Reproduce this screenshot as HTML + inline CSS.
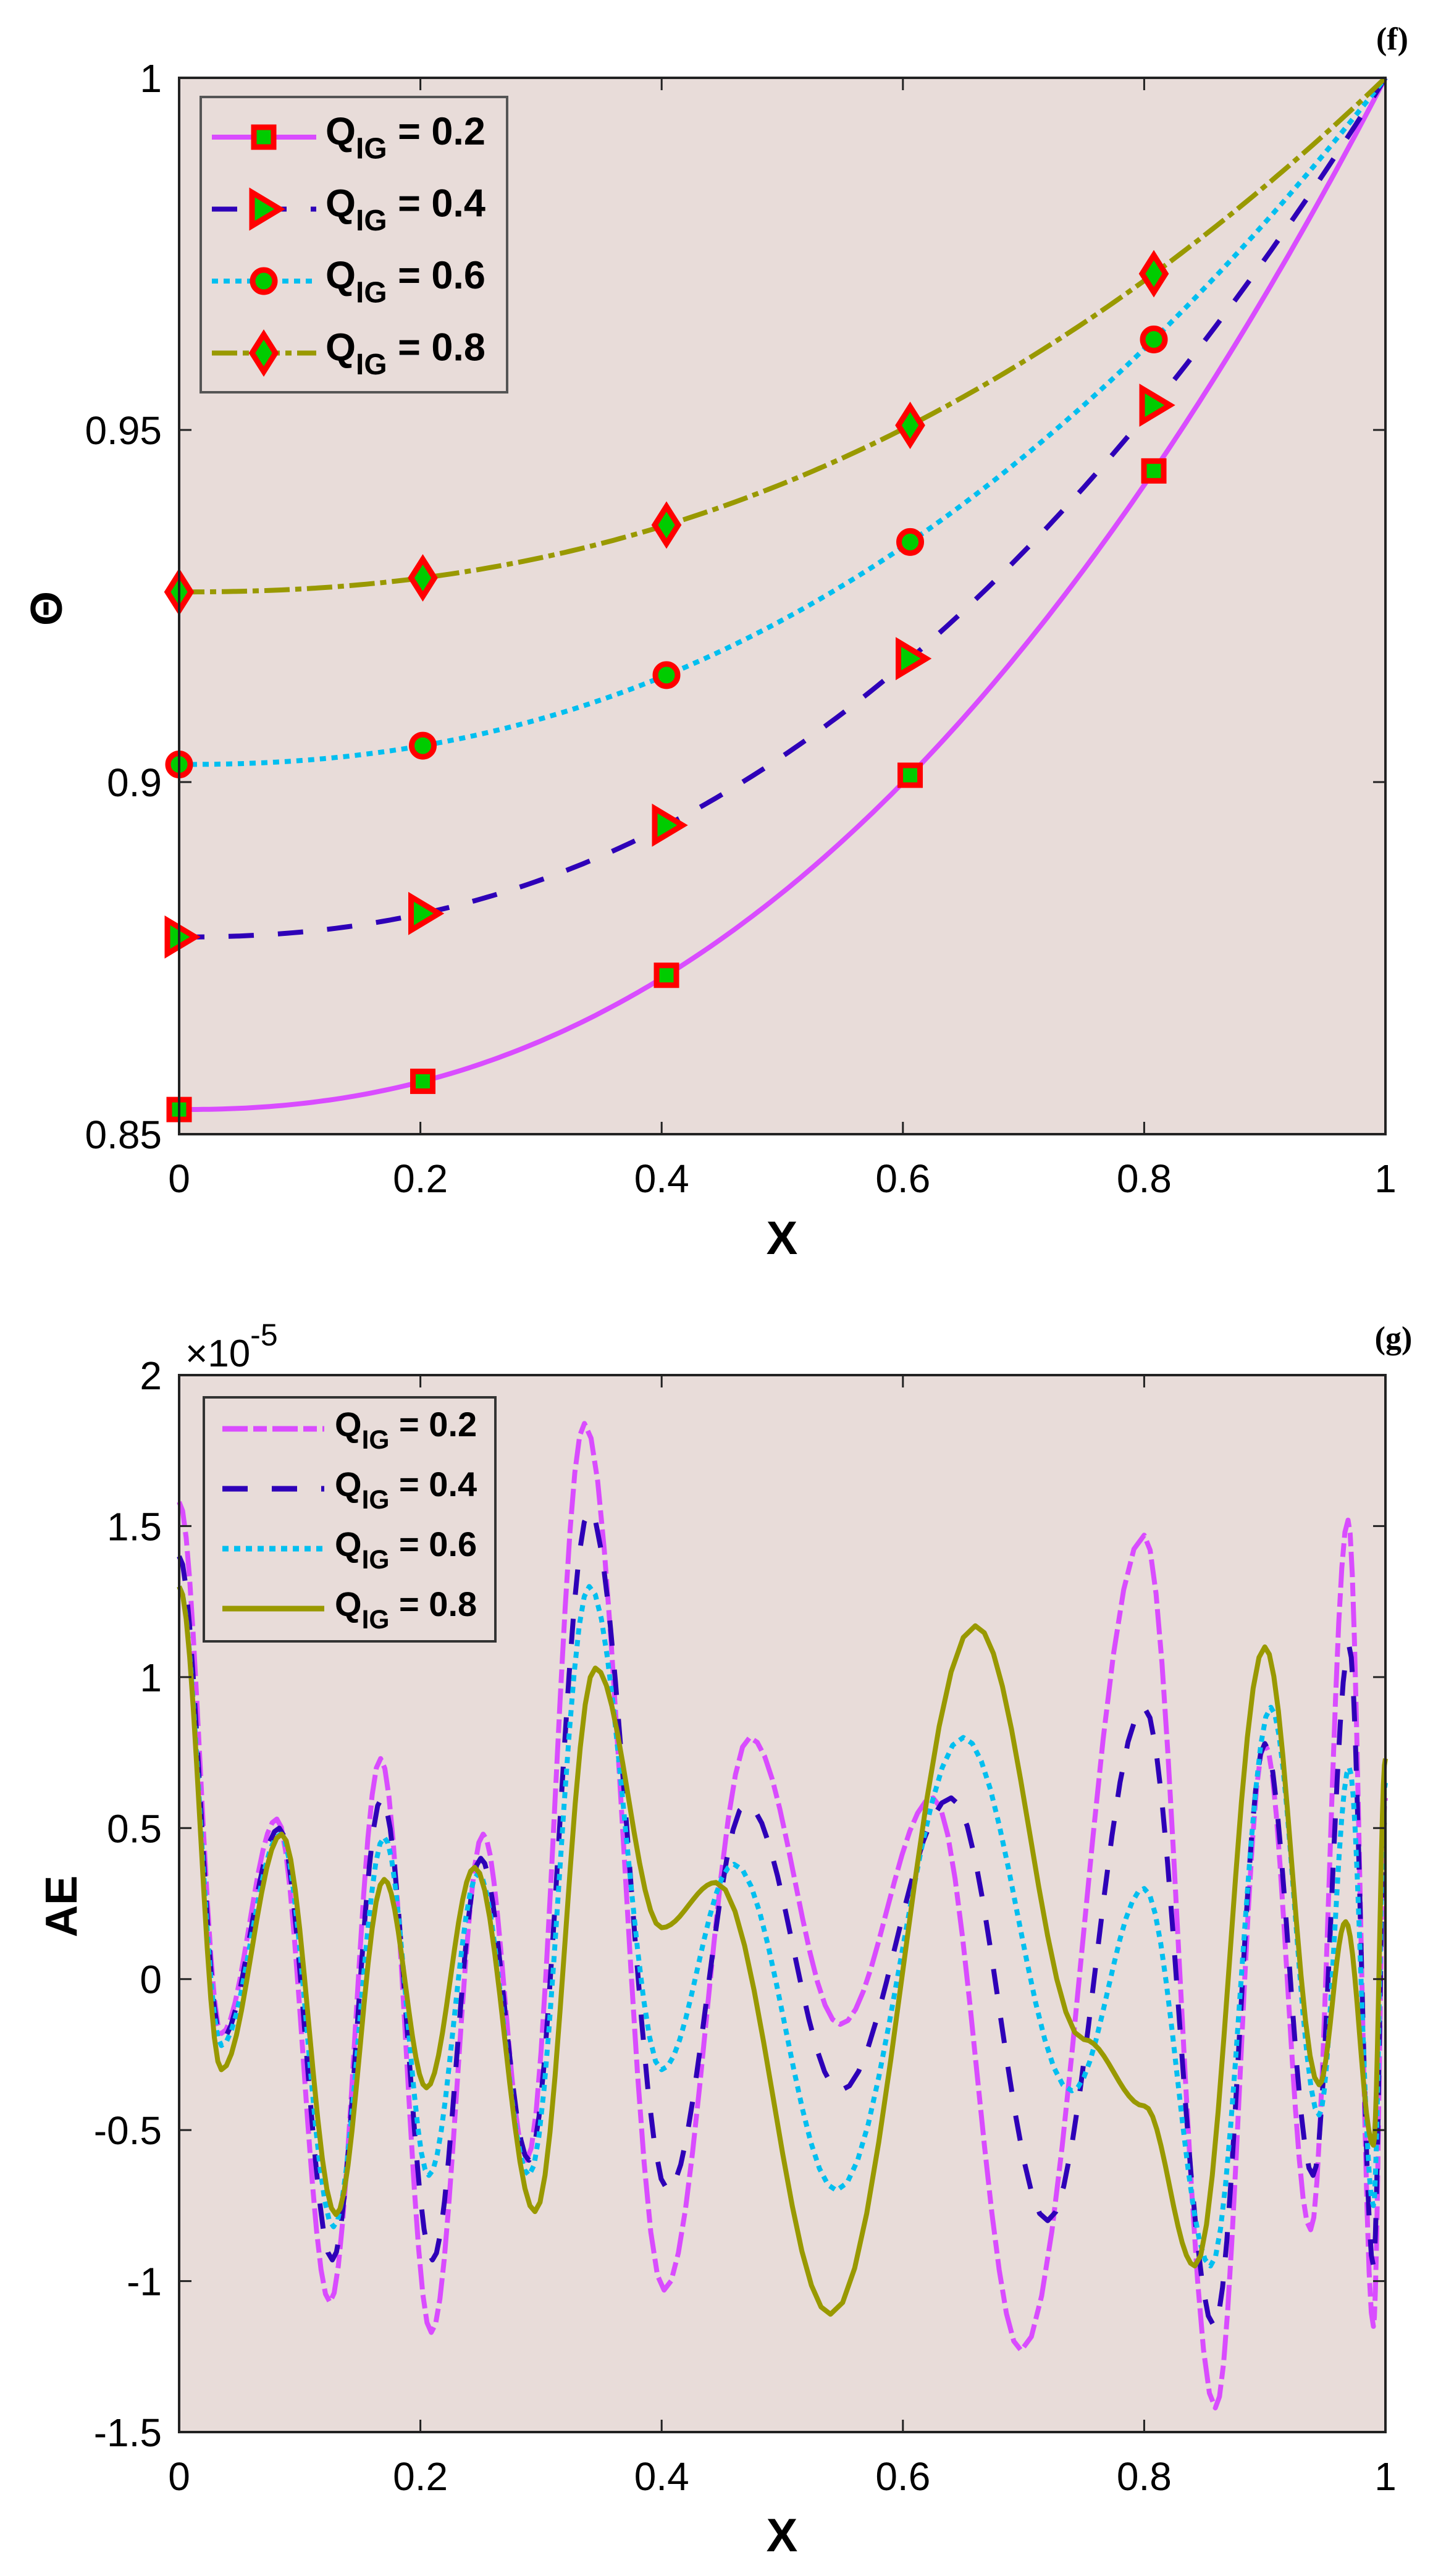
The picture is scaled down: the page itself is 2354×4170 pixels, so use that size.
<!DOCTYPE html>
<html><head><meta charset="utf-8"><style>
html,body{margin:0;padding:0;background:#fff;}
svg{display:block;}
text{font-family:"Liberation Sans",sans-serif;}
</style></head><body>
<svg id="s" width="2354" height="4170" xmlns="http://www.w3.org/2000/svg">
<rect width="2354" height="4170" fill="#fff"/>
<rect x="290" y="126" width="1953" height="1710" fill="#e8dcd9"/>
<g id="topg"></g>
<rect x="290" y="126" width="1953" height="1710" fill="none" stroke="#222" stroke-width="4"/>
<g id="topticks"></g>
<rect x="325" y="157" width="496" height="478" fill="#e8dcd9" stroke="#555" stroke-width="4"/>
<g id="toplegend"></g>
<text x="2254" y="80" font-weight="bold" font-size="52" text-anchor="middle" style="font-family:'Liberation Serif',serif">(f)</text>
<text x="1266" y="2030" font-weight="bold" font-size="76" text-anchor="middle">X</text>
<text transform="translate(100,985) rotate(-90)" font-weight="bold" font-size="72" text-anchor="middle">Θ</text>

<rect x="290" y="2226" width="1953" height="1711" fill="#e8dcd9"/>
<g id="botg"></g>
<rect x="290" y="2226" width="1953" height="1711" fill="none" stroke="#222" stroke-width="4"/>
<g id="botticks"></g>
<rect x="330" y="2262" width="472" height="395" fill="#e8dcd9" stroke="#333" stroke-width="4"/>
<g id="botlegend"></g>
<text x="2256" y="2183" font-weight="bold" font-size="52" text-anchor="middle" style="font-family:'Liberation Serif',serif">(g)</text>
<text x="300" y="2212" font-size="62">×10<tspan font-size="50" dy="-34">-5</tspan></text>
<text x="1266" y="4130" font-weight="bold" font-size="76" text-anchor="middle">X</text>
<text transform="translate(124,3086) rotate(-90)" font-weight="bold" font-size="72" text-anchor="middle">AE</text>
</svg>
<script>
(function(){
var NS="http://www.w3.org/2000/svg";
function el(p,t,a,txt){var e=document.createElementNS(NS,t);for(var k in a)e.setAttribute(k,a[k]);if(txt!==undefined)e.textContent=txt;p.appendChild(e);return e;}
var L=290,R=2243,W=R-L;
var cols=["#d94cff","#2e00b8","#00bff0","#999900"];
var dashTop=["none","41 39","10 9","41 9 10 9"];
var dashBot=["41 9 22 9","41 39","10 9","none"];
var T=126,B=1836;
var EXP=2.25;
function yT(v){return B-(v-0.85)/0.15*(B-T);}
function xm(x){return L+x*W;}
var th0=[0.8535,0.878,0.9025,0.927];
var topG=document.getElementById("topg");
function marker(g,kind,cx,cy){
  var st={fill:"#00cc00",stroke:"#ff0000","stroke-width":9};
  var a;
  if(kind==0){a={x:cx-16,y:cy-16,width:32,height:32};for(var k in st)a[k]=st[k];el(g,"rect",a);}
  if(kind==1){a={points:(cx-19)+","+(cy-27)+" "+(cx+26)+","+cy+" "+(cx-19)+","+(cy+27)};for(var k in st)a[k]=st[k];el(g,"polygon",a);}
  if(kind==2){a={cx:cx,cy:cy,r:18};for(var k in st)a[k]=st[k];el(g,"circle",a);}
  if(kind==3){a={points:cx+","+(cy-30)+" "+(cx+19)+","+cy+" "+cx+","+(cy+30)+" "+(cx-19)+","+cy};for(var k in st)a[k]=st[k];el(g,"polygon",a);}
}
for(var i=0;i<4;i++){
  var d="";for(var k=0;k<=200;k++){var x=k/200;var v=th0[i]+(1-th0[i])*Math.pow(x,EXP);d+=(k?"L":"M")+xm(x).toFixed(1)+","+yT(v).toFixed(1);}
  var a={d:d,fill:"none",stroke:cols[i],"stroke-width":8};if(dashTop[i]!="none")a["stroke-dasharray"]=dashTop[i];
  el(topG,"path",a);
}
for(var i=0;i<4;i++)for(var k=0;k<5;k++){var x=k*0.202;var v=th0[i]+(1-th0[i])*Math.pow(x,EXP);marker(topG,i,xm(x),yT(v));}
function ticks(g,Tt,Bb,ylabels,yfun){
  var xl=["0","0.2","0.4","0.6","0.8","1"];
  for(var k=0;k<=5;k++){var x=L+k*0.2*W;
    el(g,"line",{x1:x,y1:Bb,x2:x,y2:Bb-20,stroke:"#222","stroke-width":3});
    el(g,"line",{x1:x,y1:Tt,x2:x,y2:Tt+20,stroke:"#222","stroke-width":3});
    el(g,"text",{x:x,y:Bb+94,"font-size":64,"text-anchor":"middle"},xl[k]);}
  for(var j=0;j<ylabels.length;j++){var v=ylabels[j][0],s=ylabels[j][1];var y=yfun(v);
    el(g,"line",{x1:L,y1:y,x2:L+20,y2:y,stroke:"#222","stroke-width":3});
    el(g,"line",{x1:R,y1:y,x2:R-20,y2:y,stroke:"#222","stroke-width":3});
    el(g,"text",{x:262,y:y+23,"font-size":64,"text-anchor":"end"},s);}
}
ticks(document.getElementById("topticks"),T,B,[[0.85,"0.85"],[0.9,"0.9"],[0.95,"0.95"],[1,"1"]],yT);
var tl=document.getElementById("toplegend");
var labs=["0.2","0.4","0.6","0.8"];
function legendText(g,x,y,fs,lab){
  var t=el(g,"text",{x:x,y:y,"font-size":fs,"font-weight":"bold"});
  t.appendChild(document.createTextNode("Q"));
  var s=document.createElementNS(NS,"tspan");s.setAttribute("font-size",fs*0.76);s.setAttribute("dy",fs*0.36);s.textContent="IG";t.appendChild(s);
  var s2=document.createElementNS(NS,"tspan");s2.setAttribute("dy",-fs*0.36);s2.textContent=" = "+lab;t.appendChild(s2);
}
for(var i=0;i<4;i++){var y=222+i*116.5;
  var a={x1:343,y1:y,x2:512,y2:y,stroke:cols[i],"stroke-width":8};if(dashTop[i]!="none")a["stroke-dasharray"]=dashTop[i];
  el(tl,"line",a);marker(tl,i,427,y);legendText(tl,527,y+12,63,labs[i]);}
var T2=2226,B2=3937;
function yB(v){return T2+(2-v)/3.5*(B2-T2);}
var ext=[
[[0,1.58],[0.035,-0.18],[0.081,0.53],[0.125,-1.07],[0.167,0.73],[0.209,-1.17],[0.252,0.48],[0.288,-0.6],[0.336,1.84],[0.402,-1.03],[0.473,0.8],[0.548,-0.15],[0.625,0.6],[0.698,-1.23],[0.8,1.47],[0.859,-1.42],[0.9,0.78],[0.938,-0.83],[0.969,1.52],[0.99,-1.15],[1,0.6]],
[[0,1.4],[0.035,-0.2],[0.083,0.5],[0.127,-0.93],[0.168,0.6],[0.21,-0.93],[0.25,0.4],[0.29,-0.6],[0.34,1.55],[0.405,-0.7],[0.47,0.58],[0.548,-0.37],[0.64,0.6],[0.72,-0.8],[0.8,0.9],[0.858,-1.15],[0.9,0.78],[0.94,-0.65],[0.97,1.1],[0.99,-0.95],[1,0.55]],
[[0,1.3],[0.035,-0.22],[0.084,0.48],[0.128,-0.82],[0.17,0.47],[0.207,-0.65],[0.248,0.35],[0.29,-0.65],[0.34,1.3],[0.4,-0.3],[0.46,0.38],[0.545,-0.7],[0.65,0.8],[0.74,-0.37],[0.8,0.3],[0.855,-0.95],[0.905,0.9],[0.945,-0.45],[0.97,0.7],[0.99,-0.75],[1,0.65]],
[[0,1.3],[0.035,-0.3],[0.085,0.48],[0.13,-0.78],[0.17,0.33],[0.205,-0.36],[0.245,0.37],[0.295,-0.77],[0.345,1.03],[0.4,0.17],[0.445,0.32],[0.54,-1.11],[0.66,1.17],[0.75,-0.2],[0.8,-0.42],[0.842,-0.95],[0.9,1.1],[0.945,-0.35],[0.967,0.19],[0.99,-0.55],[1,0.73]]];
var botG=document.getElementById("botg");
for(var i=0;i<4;i++){
  var p=ext[i];var d="";
  for(var j=0;j<p.length-1;j++){var x0=p[j][0],v0=p[j][1],x1=p[j+1][0],v1=p[j+1][1];var n=12;
    for(var k=(j?1:0);k<=n;k++){var t=k/n;var x=x0+(x1-x0)*t;var v=v0+(v1-v0)*(1-Math.cos(Math.PI*t))/2;
      d+=(d?"L":"M")+xm(x).toFixed(1)+","+yB(v).toFixed(1);}}
  var a={d:d,fill:"none",stroke:cols[i],"stroke-width":8,"stroke-linejoin":"round"};if(dashBot[i]!="none")a["stroke-dasharray"]=dashBot[i];
  el(botG,"path",a);
}
ticks(document.getElementById("botticks"),T2,B2,[[-1.5,"-1.5"],[-1,"-1"],[-0.5,"-0.5"],[0,"0"],[0.5,"0.5"],[1,"1"],[1.5,"1.5"],[2,"2"]],yB);
var bl=document.getElementById("botlegend");
for(var i=0;i<4;i++){var y=2313+i*97;
  var a={x1:360,y1:y,x2:525,y2:y,stroke:cols[i],"stroke-width":9};if(dashBot[i]!="none")a["stroke-dasharray"]=dashBot[i];
  el(bl,"line",a);legendText(bl,542,y+12,56,labs[i]);}
})();
</script>
</body></html>
